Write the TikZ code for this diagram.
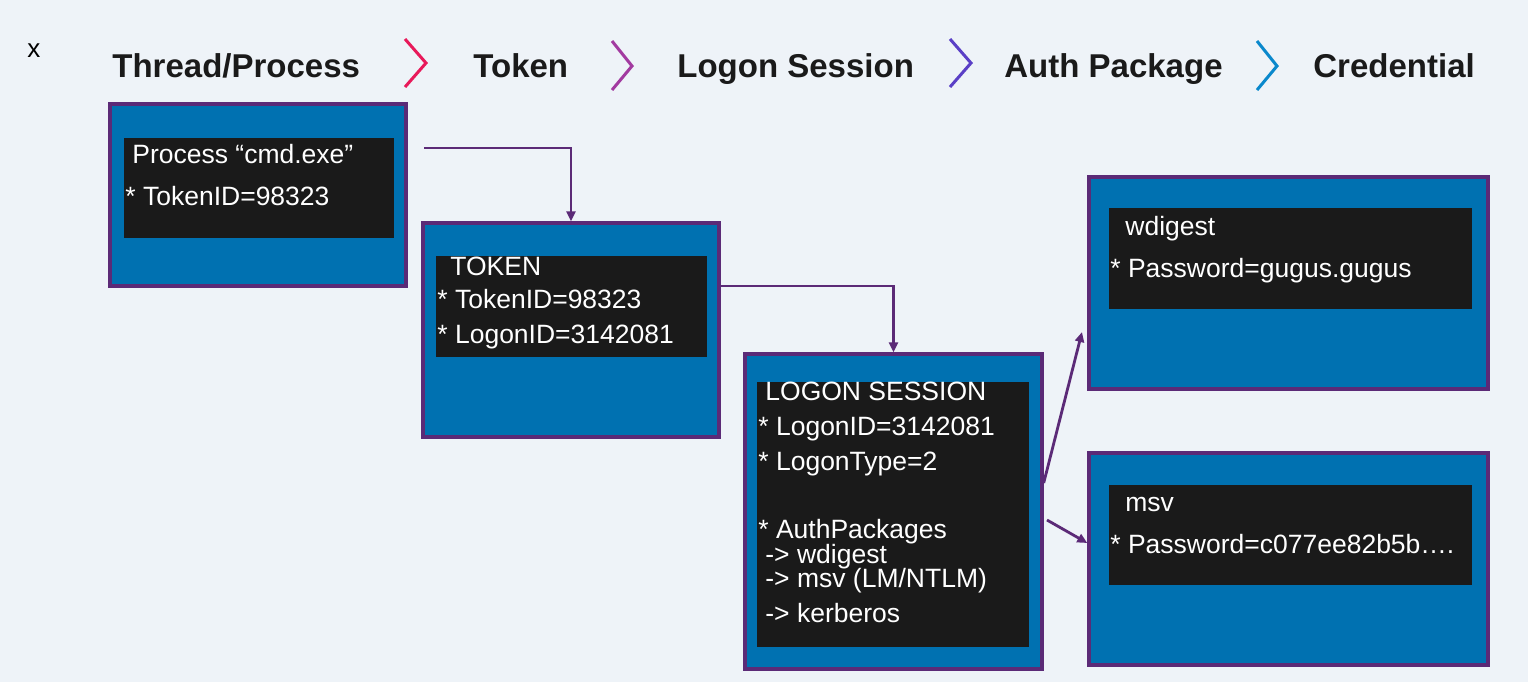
\documentclass[tikz,border=0pt]{standalone}
\usepackage{fontspec}
\setmainfont{Liberation Sans}
\usetikzlibrary{arrows.meta,fit,calc}
\definecolor{bgc}{HTML}{EEF3F8}
\definecolor{boxblue}{HTML}{0071B1}
\definecolor{innerblack}{HTML}{1A1A1A}
\definecolor{purp}{HTML}{5B2A77}
\definecolor{chA}{HTML}{E8195A}
\definecolor{chB}{HTML}{A23AA0}
\definecolor{chC}{HTML}{5A3FC6}
\definecolor{chD}{HTML}{0A88CC}
\begin{document}
\begin{tikzpicture}[x=0.5pt,y=-0.5pt,
  outerbox/.style={draw=purp,line width=1.7pt,fill=boxblue,inner sep=0pt},
  innerbox/.style={fill=innerblack,inner sep=0pt},
  txt/.style={text=white,font=\fontsize{13.25}{15}\selectfont,inner sep=0pt,anchor=base west},
  hdr/.style={text=innerblack,font=\fontsize{16.5}{19}\selectfont\bfseries,inner sep=0pt,anchor=base west},
  chev/.style={line width=1.5pt},
  conn/.style={draw=purp,line width=1.4pt,-{Triangle[length=5pt,width=4.5pt]}}]
\useasboundingbox (0,0) rectangle (1528,682);
\fill[bgc] (0,0) rectangle (1528,682);

% header
\node[text=black,font=\fontsize{13}{15}\selectfont,inner sep=0pt,anchor=base west] (xx) at (27,57) {x};
\node[hdr] (h1) at (112,77) {Thread/Process};
\node[hdr] (h2) at (473,77) {Token};
\node[hdr] (h3) at (677,77) {Logon Session};
\node[hdr] (h4) at (1004,77) {Auth Package};
\node[hdr] (h5) at (1313,77) {Credential};
\draw[chev,chA] (405,39) -- (426,63) -- (405,87);
\draw[chev,chB] (612,41) -- (632,66) -- (612,90);
\draw[chev,chC] (950,39) -- (971,63) -- (950,87);
\draw[chev,chD] (1257,41) -- (1277,66) -- (1257,90);

% boxes
\coordinate (pa) at (110,104); \coordinate (pb) at (406,286);
\node[outerbox,fit=(pa)(pb)] (proc) {};
\coordinate (pia) at (124,138); \coordinate (pib) at (394,238);
\node[innerbox,fit=(pia)(pib)] (proci) {};

\coordinate (ta) at (423,223); \coordinate (tb) at (719,437);
\node[outerbox,fit=(ta)(tb)] (tok) {};
\coordinate (tia) at (436,256); \coordinate (tib) at (707,357);
\node[innerbox,fit=(tia)(tib)] (toki) {};

\coordinate (la) at (745,354); \coordinate (lb) at (1042,669);
\node[outerbox,fit=(la)(lb)] (logon) {};
\coordinate (lia) at (757,382); \coordinate (lib) at (1029,647);
\node[innerbox,fit=(lia)(lib)] (logoni) {};

\coordinate (wa) at (1089,177); \coordinate (wb) at (1488,389);
\node[outerbox,fit=(wa)(wb)] (wdg) {};
\coordinate (wia) at (1109,208); \coordinate (wib) at (1472,309);
\node[innerbox,fit=(wia)(wib)] (wdgi) {};

\coordinate (ma) at (1089,453); \coordinate (mb) at (1488,665);
\node[outerbox,fit=(ma)(mb)] (msv) {};
\coordinate (mia) at (1109,485); \coordinate (mib) at (1472,585);
\node[innerbox,fit=(mia)(mib)] (msvi) {};

% texts
\node[txt] (p1) at (132,163) {Process “cmd.exe”};
\node[txt] (p2) at (125,205) {* TokenID=98323};

\node[txt] (t1) at (450,275) {TOKEN};
\node[txt] (t2) at (437,308) {* TokenID=98323};
\node[txt] (t3) at (437,343) {* LogonID=3142081};

\node[txt] (l1) at (765,400) {LOGON SESSION};
\node[txt] (l2) at (758,435) {* LogonID=3142081};
\node[txt] (l3) at (758,470) {* LogonType=2};
\node[txt] (l4) at (758,538) {* AuthPackages};
\node[txt] (l5) at (765,563) {-> wdigest};
\node[txt] (l6) at (765,587) {-> msv (LM/NTLM)};
\node[txt] (l7) at (765,622) {-> kerberos};

\node[txt] (w1) at (1125,235) {wdigest};
\node[txt] (w2) at (1110,277) {* Password=gugus.gugus};

\node[txt] (m1) at (1125,511) {msv};
\node[txt] (m2) at (1110,553) {* Password=c077ee82b5b….};

% connectors
\coordinate (s1) at (424,148);
\draw[conn] (s1) -| (tok.north);
\coordinate (s2) at (719,286);
\draw[conn] (tok.east |- s2) -| (logon.north);
\coordinate (s3) at (1042,483);
\coordinate (e3) at (1082,332);
\draw[conn] (logon.east |- s3) -- (e3);
\coordinate (s4) at (1047,520);
\coordinate (e4) at (1089,543);
\draw[conn] (s4) -- (msv.west |- e4);
\end{tikzpicture}
\end{document}
